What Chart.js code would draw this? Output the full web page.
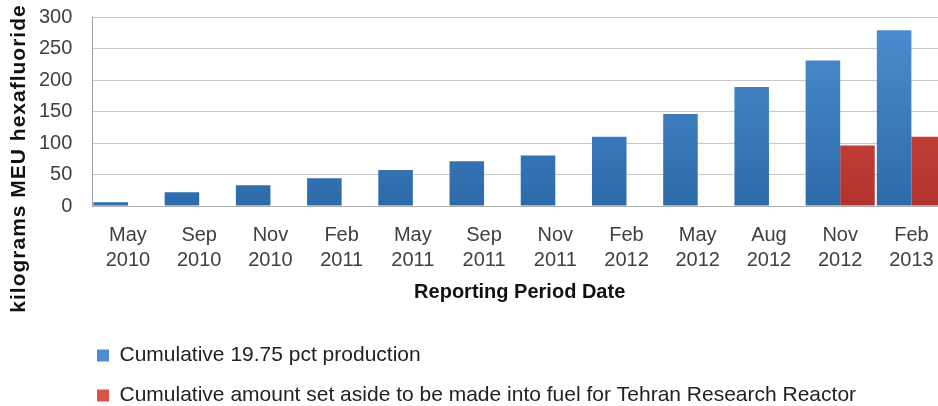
<!DOCTYPE html>
<html>
<head>
<meta charset="utf-8">
<script src="https://cdn.jsdelivr.net/npm/chart.js@4/dist/chart.umd.min.js"></script>
<style>
  html, body { margin: 0; padding: 0; background: #fff; overflow: hidden; }
  #wrap { width: 947px; height: 406px; }
</style>
</head>
<body>
<div id="wrap"><canvas id="graph"></canvas></div>
<script>
const periods = [
  ["May", "2010"], ["Sep", "2010"], ["Nov", "2010"], ["Feb", "2011"],
  ["May", "2011"], ["Sep", "2011"], ["Nov", "2011"], ["Feb", "2012"],
  ["May", "2012"], ["Aug", "2012"], ["Nov", "2012"], ["Feb", "2013"],
];
const production = [6, 22, 33, 44, 57, 71, 80, 110, 146, 189, 231, 279];
const setAside = [null, null, null, null, null, null, null, null, null, null, 96, 110];

const seriesNames = [
  "Cumulative 19.75 pct production",
  "Cumulative amount set aside to be made into fuel for Tehran Research Reactor",
];
const yTicks = [0, 50, 100, 150, 200, 250, 300];
const yTitle = "kilograms MEU hexafluoride";
const xTitle = "Reporting Period Date";

const blue = ["#4b8fd0", "#2d6aaa"];
const red = ["#da5249", "#b3322d"];

function barFill(colors) {
  return (c) => {
    const area = c.chart.chartArea;
    if (!area) return colors[1];
    const g = c.chart.ctx.createLinearGradient(0, area.top, 0, area.bottom);
    g.addColorStop(0, colors[0]);
    g.addColorStop(1, colors[1]);
    return g;
  };
}

Chart.defaults.font.family = '"Liberation Sans", Arial, sans-serif';

// nudges the legend and draws the y title centred like the original
const tweaks = {
  id: "tweaks",
  afterLayout(chart) {
    const lg = chart.legend;
    lg.left = 78;
    lg.top += 10;
    lg.bottom += 10;
  },
  afterDraw(chart) {
    const ctx = chart.ctx;
    const y = (chart.chartArea.top + chart.scales.x.bottom) / 2 - 8;
    ctx.save();
    ctx.translate(19, y);
    ctx.rotate(-Math.PI / 2);
    ctx.font = 'bold 21px "Liberation Sans", Arial, sans-serif';
    ctx.letterSpacing = "1px";
    ctx.textAlign = "center";
    ctx.textBaseline = "middle";
    ctx.fillStyle = "#111";
    ctx.fillText(yTitle, 0, 0);
    ctx.restore();
  },
};

const legendColors = [blue[0], red[0]];

new Chart(document.getElementById("graph"), {
  type: "bar",
  data: {
    labels: periods,
    datasets: [
      { label: seriesNames[0], data: production, backgroundColor: barFill(blue) },
      { label: seriesNames[1], data: setAside, backgroundColor: barFill(red) },
    ],
  },
  options: {
    responsive: true,
    maintainAspectRatio: false,
    animation: false,
    datasets: { bar: { categoryPercentage: 0.97, barPercentage: 1, borderWidth: 0 } },
    layout: { padding: { top: 17, left: 19, right: 0, bottom: 0 } },
    plugins: {
      tooltip: { enabled: false },
      legend: {
        position: "bottom",
        align: "start",
        labels: {
          boxWidth: 12,
          boxHeight: 12,
          padding: 19,
          color: "#222",
          font: { size: 21 },
          generateLabels: (chart) =>
            Chart.defaults.plugins.legend.labels.generateLabels(chart).map((l, i) => ({
              ...l, fillStyle: legendColors[i], strokeStyle: legendColors[i], lineWidth: 0,
            })),
        },
      },
    },
    scales: {
      x: {
        afterFit: (axis) => { axis.paddingLeft = 0; axis.paddingRight = 0; },
        grid: { display: false, drawTicks: false },
        border: { display: true, color: "#b0b0b0" },
        ticks: { font: { size: 20, lineHeight: 1.25 }, color: "#404040", padding: 17, maxRotation: 0, autoSkip: false },
        title: {
          display: true, text: xTitle, color: "#111",
          font: { size: 20, weight: "bold", lineHeight: 1.2 },
          padding: { top: -10, bottom: 12 },
        },
      },
      y: {
        min: yTicks[0], max: yTicks[yTicks.length - 1],
        afterBuildTicks: (axis) => { axis.ticks = yTicks.map((v) => ({ value: v })); },
        afterFit: (axis) => { axis.paddingTop = 12; },
        ticks: { autoSkip: false, font: { size: 20 }, color: "#404040", padding: 20 },
        grid: { color: "#c8c8c8", drawTicks: false },
        border: { display: true, color: "#a0a0a0" },
      },
    },
  },
  plugins: [tweaks],
});
</script>
</body>
</html>
